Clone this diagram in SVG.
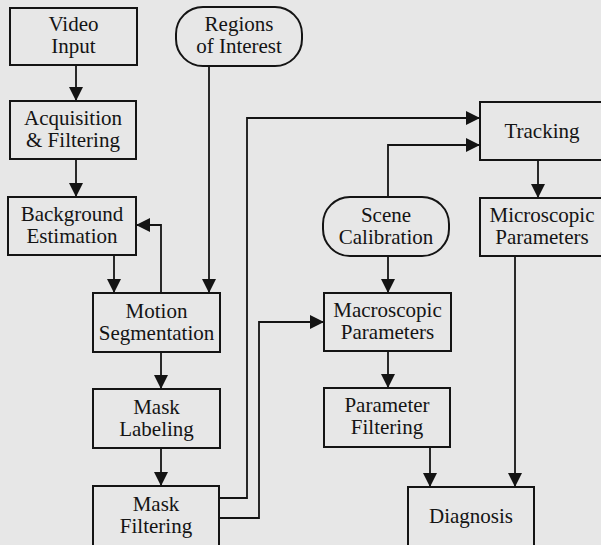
<svg xmlns="http://www.w3.org/2000/svg" width="601" height="545" viewBox="0 0 601 545">
  <style>
    .box { fill: none; stroke: #141414; stroke-width: 2; }
    .lbl { font-size: 21px; fill: #141414; text-anchor: middle; }
    .wire { fill: none; stroke: #141414; stroke-width: 1.8; marker-end: url(#head); }
  </style>
  <defs>
    <marker id="head" markerUnits="userSpaceOnUse" markerWidth="14" markerHeight="14" viewBox="0 0 14 14" refX="14" refY="7" orient="auto">
      <path d="M0,0 L14,7 L0,14 Z" fill="#141414"/>
    </marker>
  </defs>
  <rect width="601" height="545" fill="#e7e7e7"/>

  <!-- connectors -->
  <g id="connectors">
    <path class="wire" d="M76,65 V101"/>
    <path class="wire" d="M76,159 V197"/>
    <path class="wire" d="M114,255 V293"/>
    <path class="wire" d="M161,293 V225 H136"/>
    <path class="wire" d="M209,66 V293"/>
    <path class="wire" d="M161,352 V389"/>
    <path class="wire" d="M161,448 V486"/>
    <path class="wire" d="M219,498 H247 V118 H480"/>
    <path class="wire" d="M219,518 H259 V322 H324"/>
    <path class="wire" d="M388,197 V145 H480"/>
    <path class="wire" d="M388,256 V293"/>
    <path class="wire" d="M538,160 V198"/>
    <path class="wire" d="M515,256 V487"/>
    <path class="wire" d="M388,351 V388"/>
    <path class="wire" d="M430,447 V487"/>
  </g>

  <g font-family="'Liberation Serif', 'DejaVu Serif', serif">
  <g id="video-input">
    <rect class="box" x="10" y="8" width="127" height="57"/>
    <text class="lbl" x="73.5" y="31">Video</text>
    <text class="lbl" x="73.5" y="53">Input</text>
  </g>
  <g id="acquisition">
    <rect class="box" x="10" y="101" width="126" height="58"/>
    <text class="lbl" x="73" y="125">Acquisition</text>
    <text class="lbl" x="73" y="147">&amp; Filtering</text>
  </g>
  <g id="background-estimation">
    <rect class="box" x="8" y="197" width="128" height="58"/>
    <text class="lbl" x="72" y="221">Background</text>
    <text class="lbl" x="72" y="243">Estimation</text>
  </g>
  <g id="regions-of-interest">
    <rect class="box" x="176" y="7" width="126" height="59" rx="27" ry="27"/>
    <text class="lbl" x="239" y="31">Regions</text>
    <text class="lbl" x="239" y="53">of Interest</text>
  </g>
  <g id="motion-segmentation">
    <rect class="box" x="93" y="293" width="127" height="59"/>
    <text class="lbl" x="156.5" y="318">Motion</text>
    <text class="lbl" x="156.5" y="340">Segmentation</text>
  </g>
  <g id="mask-labeling">
    <rect class="box" x="93" y="389" width="127" height="59"/>
    <text class="lbl" x="156.5" y="414">Mask</text>
    <text class="lbl" x="156.5" y="436">Labeling</text>
  </g>
  <g id="mask-filtering">
    <rect class="box" x="93" y="486" width="126" height="62"/>
    <text class="lbl" x="156" y="511">Mask</text>
    <text class="lbl" x="156" y="533">Filtering</text>
  </g>
  <g id="scene-calibration">
    <rect class="box" x="323" y="197" width="126" height="59" rx="27" ry="27"/>
    <text class="lbl" x="386" y="222">Scene</text>
    <text class="lbl" x="386" y="244">Calibration</text>
  </g>
  <g id="macroscopic-parameters">
    <rect class="box" x="324" y="293" width="127" height="58"/>
    <text class="lbl" x="387.5" y="317">Macroscopic</text>
    <text class="lbl" x="387.5" y="339">Parameters</text>
  </g>
  <g id="parameter-filtering">
    <rect class="box" x="324" y="388" width="126" height="59"/>
    <text class="lbl" x="387" y="412">Parameter</text>
    <text class="lbl" x="387" y="434">Filtering</text>
  </g>
  <g id="tracking">
    <rect class="box" x="480" y="102" width="126" height="58"/>
    <text class="lbl" x="542" y="138">Tracking</text>
  </g>
  <g id="microscopic-parameters">
    <rect class="box" x="480" y="198" width="126" height="58"/>
    <text class="lbl" x="542" y="222">Microscopic</text>
    <text class="lbl" x="542" y="244">Parameters</text>
  </g>
  <g id="diagnosis">
    <rect class="box" x="408" y="487" width="126" height="60"/>
    <text class="lbl" x="471" y="523">Diagnosis</text>
  </g>
  </g>
</svg>
